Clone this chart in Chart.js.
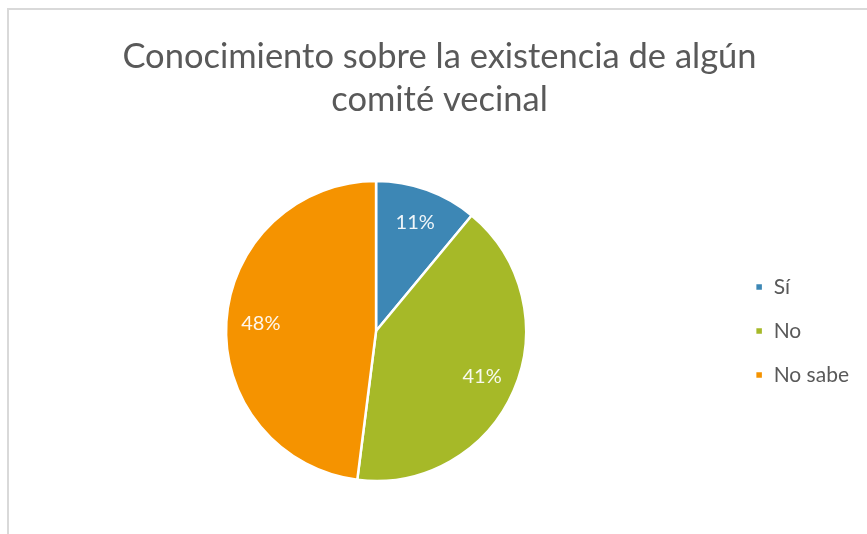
<!DOCTYPE html>
<html>
<head>
<meta charset="utf-8">
<script src="https://cdn.jsdelivr.net/npm/chart.js@4/dist/chart.umd.min.js"></script>
<style>
  html, body { margin: 0; padding: 0; background: #fff; overflow: hidden; }
  #wrap { position: relative; width: 867px; height: 534px; }
  #frame { position: absolute; left: 7px; top: 8px; width: 900px; height: 600px;
           border-left: 2px solid #d9d9d9; border-top: 2px solid #d9d9d9; box-sizing: border-box; }
  canvas { position: absolute; left: 0; top: 0; }
</style>
</head>
<body>
<div id="wrap">
  <div id="frame"></div>
  <canvas id="c" width="867" height="534"></canvas>
</div>
<script>
const titleLines = ["Conocimiento sobre la existencia de algún", "comité vecinal"];
const categories = ["Sí", "No", "No sabe"];
const values = [11, 41, 48];
const colors = ["#3D87B5", "#A6B928", "#F59300"];

const pctLabels = {
  id: 'pctLabels',
  afterDatasetsDraw(chart) {
    const ctx = chart.ctx;
    const meta = chart.getDatasetMeta(0);
    const data = chart.data.datasets[0].data;
    const total = data.reduce((a, b) => a + b, 0);
    ctx.save();
    ctx.font = '20px "Lato", "Liberation Sans", sans-serif';
    ctx.fillStyle = 'rgba(255,255,255,0.92)';
    ctx.textAlign = 'center';
    ctx.textBaseline = 'middle';
    meta.data.forEach((arc, i) => {
      const p = arc.getProps(['x', 'y', 'startAngle', 'endAngle', 'outerRadius'], true);
      const mid = (p.startAngle + p.endAngle) / 2;
      const r = p.outerRadius * 0.77;
      ctx.fillText(Math.round(data[i] / total * 100) + '%', p.x + Math.cos(mid) * r, p.y + Math.sin(mid) * r);
    });
    ctx.restore();
  }
};

new Chart(document.getElementById('c'), {
  type: 'pie',
  data: {
    labels: categories,
    datasets: [{
      data: values,
      backgroundColor: colors,
      borderColor: '#ffffff',
      borderWidth: 2.5,
      hoverOffset: 0
    }]
  },
  options: {
    responsive: false,
    animation: false,
    devicePixelRatio: 1,
    layout: { padding: { left: 20, right: 8, top: 0, bottom: 51.75 } },
    plugins: {
      tooltip: { enabled: false },
      title: {
        display: true,
        text: titleLines,
        color: '#595959',
        font: { family: '"Lato", "Liberation Sans", sans-serif', size: 34.5, weight: 'normal', lineHeight: 1.25 },
        padding: { top: 35.5, bottom: 58 }
      },
      legend: {
        display: true,
        position: 'right',
        fullSize: false,
        labels: {
          color: '#595959',
          font: { family: '"Lato", "Liberation Sans", sans-serif', size: 21 },
          boxWidth: 8,
          boxHeight: 8,
          padding: 23
        }
      }
    }
  },
  plugins: [pctLabels]
});
</script>
</body>
</html>
